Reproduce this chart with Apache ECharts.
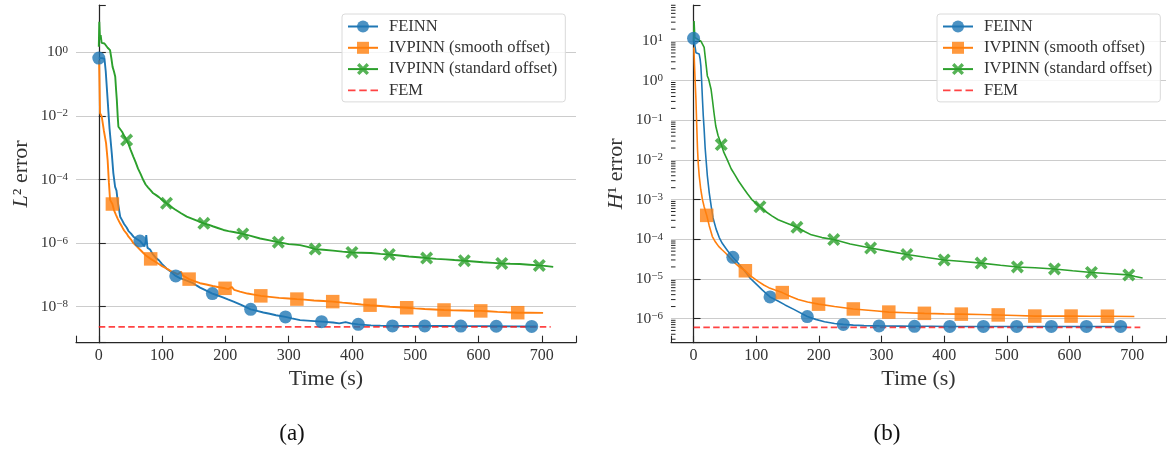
<!DOCTYPE html>
<html>
<head>
<meta charset="utf-8">
<script src="https://cdn.jsdelivr.net/npm/echarts@6/dist/echarts.min.js"></script>
<style>
  html, body { margin: 0; padding: 0; background: #ffffff; }
  #chart { width: 1169px; height: 450px; }
</style>
</head>
<body>
<div id="chart"></div>
<script>
// ---------------- DATA (time in s, error value) ----------------
const seriesNames = ['FEINN', 'IVPINN (smooth offset)', 'IVPINN (standard offset)', 'FEM'];

// (a) L2 error
const feinnL2 = [[0,0.66],[5,0.66],[9,0.63],[11,0.25],[14,0.032],[17,4.0e-3],[20.5,6.8e-4],[23,1.6e-4],[25.8,5.9e-5],[28,4.5e-5],[30,2.0e-5],[33.8,6.8e-6],[37,5.2e-6],[40,4.0e-6],[44,3.1e-6],[47,2.4e-6],[51,2.0e-6],[54.7,1.6e-6],[60,1.35e-6],[65,1.17e-6],[69,9.5e-7],[72,7.9e-7],[74,1.1e-6],[75,1.8e-6],[76.5,8.5e-7],[77,7.1e-7],[81,6.3e-7],[85,4.6e-7],[90,3.5e-7],[95,2.9e-7],[100,2.2e-7],[107,1.6e-7],[114,1.25e-7],[121.6,9.3e-8],[128,8.0e-8],[135,7.1e-8],[142,6.3e-8],[149,5.5e-8],[155,4.6e-8],[160,4.0e-8],[170,3.2e-8],[179.5,2.6e-8],[187,2.3e-8],[195,2.0e-8],[204,1.7e-8],[213,1.45e-8],[225,1.15e-8],[240,8.3e-9],[250,7.4e-9],[260,6.6e-9],[270,6.0e-9],[280,5.4e-9],[295,4.8e-9],[305,4.3e-9],[318,3.8e-9],[335,3.6e-9],[352,3.4e-9],[370,3.2e-9],[380,3.0e-9],[390,3.3e-9],[398,3.0e-9],[410,2.8e-9],[430,2.6e-9],[445,2.55e-9],[464,2.5e-9],[490,2.5e-9],[515,2.5e-9],[545,2.48e-9],[572,2.46e-9],[600,2.45e-9],[628,2.44e-9],[655,2.42e-9],[684,2.4e-9],[692,2.4e-9]];
const feinnL2Markers = [[0,0.66],[65,1.17e-6],[121.6,9.3e-8],[179.5,2.6e-8],[240,8.3e-9],[295,4.8e-9],[352,3.4e-9],[410,2.8e-9],[464,2.5e-9],[515,2.5e-9],[572,2.46e-9],[628,2.44e-9],[684,2.4e-9]];

const smoothL2 = [[0.5,0.56],[2,0.0123],[4.7,9.5e-3],[8,3.5e-3],[11.5,1.4e-3],[14,4.0e-4],[16,8e-5],[17.8,2.3e-5],[21.5,1.7e-5],[24,1.1e-5],[27,7.9e-6],[30,5.8e-6],[33.6,4.2e-6],[37,3.2e-6],[40,2.5e-6],[44,2.0e-6],[47,1.6e-6],[51,1.3e-6],[54.7,1.0e-6],[60,8.0e-7],[65,6.3e-7],[70,5.0e-7],[75,4.0e-7],[82,3.2e-7],[88,2.7e-7],[95,2.2e-7],[100,1.9e-7],[107,1.6e-7],[113,1.35e-7],[120,1.17e-7],[125,1.05e-7],[130,1.26e-7],[133,9.5e-8],[142.7,7.4e-8],[150,6.5e-8],[160,5.5e-8],[170,5.0e-8],[180,4.5e-8],[190,4.1e-8],[199.5,3.8e-8],[205,3.6e-8],[210,4.2e-8],[214,3.4e-8],[223,3.0e-8],[235,2.6e-8],[245,2.4e-8],[256,2.2e-8],[270,2.05e-8],[285,1.9e-8],[300,1.82e-8],[313,1.74e-8],[325,1.68e-8],[340,1.58e-8],[355,1.52e-8],[369.6,1.45e-8],[385,1.35e-8],[400,1.26e-8],[415,1.18e-8],[428.6,1.12e-8],[445,1.06e-8],[460,1.0e-8],[486.5,9.3e-9],[500,8.9e-9],[515,8.5e-9],[530,8.2e-9],[545.5,7.9e-9],[560,7.7e-9],[575,7.6e-9],[590,7.5e-9],[603.5,7.4e-9],[615,7.2e-9],[630,6.9e-9],[645,6.7e-9],[661.9,6.5e-9],[680,6.5e-9],[702,6.4e-9]];
const smoothL2Markers = [[21.5,1.7e-5],[82,3.2e-7],[142.7,7.4e-8],[199.5,3.8e-8],[256,2.2e-8],[313,1.74e-8],[369.6,1.45e-8],[428.6,1.12e-8],[486.5,9.3e-9],[545.5,7.9e-9],[603.5,7.4e-9],[661.9,6.5e-9]];

const standardL2 = [[0,1.5],[0.8,9.1],[2,2.5],[3,3.5],[4.5,2.0],[6,2.2],[9,1.9],[12,1.8],[14,1.4],[17.8,1.17],[20,0.63],[21.8,0.35],[24,0.25],[26,0.17],[27.5,0.06],[28.5,0.032],[30,9e-3],[31,4.6e-3],[33,4.0e-3],[36.8,3.2e-3],[40,2.4e-3],[44,1.74e-3],[47,1.3e-3],[50,8.9e-4],[54.7,5.2e-4],[58,3.6e-4],[62,2.2e-4],[66,1.5e-4],[70.5,9.5e-5],[74,7.0e-5],[78,5.6e-5],[82,4.6e-5],[86,3.7e-5],[90,3.3e-5],[95,2.8e-5],[100,2.3e-5],[107,1.8e-5],[113,1.45e-5],[120,1.17e-5],[130,8.7e-6],[139,6.8e-6],[150,5.6e-6],[158,4.8e-6],[166,4.2e-6],[173,3.8e-6],[180,3.4e-6],[188,3.0e-6],[197,2.6e-6],[205,2.4e-6],[215,2.2e-6],[227.5,1.95e-6],[240,1.7e-6],[255,1.4e-6],[270,1.22e-6],[283.7,1.07e-6],[292,1.0e-6],[300,9.3e-7],[310,9.0e-7],[318,8.7e-7],[330,7.6e-7],[342,6.5e-7],[355,6.2e-7],[370,5.8e-7],[385,5.4e-7],[400,5.1e-7],[415,5.0e-7],[430,4.9e-7],[445,4.6e-7],[459,4.4e-7],[475,4.1e-7],[490,3.8e-7],[505,3.6e-7],[518,3.4e-7],[533,3.2e-7],[548,3.1e-7],[562,2.95e-7],[577.6,2.8e-7],[592,2.65e-7],[607,2.5e-7],[622,2.4e-7],[636.7,2.3e-7],[650,2.25e-7],[665,2.2e-7],[680,2.1e-7],[696,2.0e-7],[708,1.9e-7],[718,1.8e-7]];
const standardL2Markers = [[44,1.74e-3],[107,1.8e-5],[166,4.2e-6],[227.5,1.95e-6],[283.7,1.07e-6],[342,6.5e-7],[400,5.1e-7],[459,4.4e-7],[518,3.4e-7],[577.6,2.8e-7],[636.7,2.3e-7],[696,2.0e-7]];

const femL2 = [[0,2.34e-9],[714,2.34e-9]];

// (b) H1 error
const feinnH1 = [[0,11.7],[2,7.9],[3.8,5.1],[6,4.8],[9,4.7],[10.5,3.5],[11.7,2.3],[13,0.9],[14.2,0.34],[15.5,0.13],[16.9,0.059],[18.5,0.02],[20,0.01],[22,4.0e-3],[25,1.5e-3],[28,7.0e-4],[31,3.5e-4],[36,1.8e-4],[41,1.1e-4],[45.8,7.9e-5],[54,5.2e-5],[62.7,3.5e-5],[72,2.4e-5],[82.7,1.5e-5],[90,1.05e-5],[98.5,7.8e-6],[110,5.2e-6],[122,3.5e-6],[134,2.8e-6],[146,2.2e-6],[160,1.7e-6],[181.5,1.12e-6],[195,9.5e-7],[209,8.3e-7],[225,7.5e-7],[239,7.1e-7],[255,6.8e-7],[272,6.6e-7],[296,6.5e-7],[330,6.4e-7],[380,6.35e-7],[450,6.3e-7],[520,6.3e-7],[600,6.3e-7],[692,6.3e-7]];
const feinnH1Markers = [[0,11.7],[62.7,3.5e-5],[122,3.5e-6],[181.5,1.12e-6],[239,7.1e-7],[296,6.5e-7],[352.6,6.35e-7],[409,6.3e-7],[462.6,6.3e-7],[515.7,6.3e-7],[571,6.3e-7],[627,6.3e-7],[681.6,6.3e-7]];

const smoothH1 = [[0.5,6.9],[1.5,2.5],[2.5,1.0],[3.8,0.34],[5,0.08],[6.3,0.019],[7.5,8e-3],[9,4.0e-3],[11.5,1.8e-3],[14.2,1.0e-3],[17,6.5e-4],[21,4.0e-4],[25,2.2e-4],[30,1.17e-4],[35,8.5e-5],[40,6.6e-5],[45,5.5e-5],[51,4.5e-5],[58,3.4e-5],[65,2.6e-5],[73,2.0e-5],[82.7,1.6e-5],[92,1.15e-5],[103.7,8.5e-6],[112,7.0e-6],[120,6.0e-6],[130,5.2e-6],[141.6,4.5e-6],[155,3.6e-6],[166.9,3.0e-6],[182,2.6e-6],[199.5,2.3e-6],[225,2.0e-6],[255,1.74e-6],[293,1.55e-6],[311.6,1.45e-6],[340,1.4e-6],[368.4,1.35e-6],[400,1.31e-6],[427.3,1.29e-6],[456,1.26e-6],[486.2,1.23e-6],[515,1.19e-6],[544.6,1.15e-6],[575,1.15e-6],[602.5,1.15e-6],[632,1.14e-6],[660.5,1.14e-6],[703.5,1.12e-6]];
const smoothH1Markers = [[21,4.0e-4],[82.7,1.6e-5],[141.6,4.5e-6],[199.5,2.3e-6],[255,1.74e-6],[311.6,1.45e-6],[368.4,1.35e-6],[427.3,1.29e-6],[486.2,1.23e-6],[544.6,1.15e-6],[602.5,1.15e-6],[660.5,1.14e-6]];

const standardH1 = [[0,10],[0.8,32],[2,12.3],[4,11.5],[6.3,11.2],[9,10.6],[11.7,10],[14,8.5],[16.9,6.9],[19,3.5],[22,1.32],[24,1.1],[25.9,1.02],[28,0.6],[30,0.34],[32.5,0.16],[35.4,0.072],[39,0.042],[44.2,0.0245],[48,0.016],[53.7,0.0102],[60,6.0e-3],[66,4.2e-3],[72,2.9e-3],[80,1.9e-3],[86,1.4e-3],[93,1.0e-3],[100,8.0e-4],[106,6.6e-4],[115,5.0e-4],[125,3.9e-4],[135,3.1e-4],[150,2.5e-4],[165,2.0e-4],[178,1.55e-4],[188,1.29e-4],[205,1.1e-4],[223.7,9.8e-5],[250,7.6e-5],[282.6,6.0e-5],[310,5.0e-5],[340.5,4.1e-5],[370,3.5e-5],[400,3.0e-5],[430,2.75e-5],[458.9,2.5e-5],[490,2.2e-5],[516.8,2.0e-5],[545,1.9e-5],[576,1.78e-5],[605,1.6e-5],[635,1.45e-5],[665,1.35e-5],[694.6,1.26e-5],[705,1.15e-5],[716.7,1.05e-5]];
const standardH1Markers = [[44.2,0.0245],[106,6.6e-4],[165,2.0e-4],[223.7,9.8e-5],[282.6,6.0e-5],[340.5,4.1e-5],[400,3.0e-5],[458.9,2.5e-5],[516.8,2.0e-5],[576,1.78e-5],[635,1.45e-5],[694.6,1.26e-5]];

const femH1 = [[0,6.0e-7],[713,6.0e-7]];

// axis extents
const xRange = [-36, 754];
const yRangeL2 = [7.4e-10, 30.9];
const yRangeH1 = [2.45e-7, 81.3];
const panelLabels = ['(a)', '(b)'];

// ---------------- CHART ----------------
const FONT = "'Liberation Serif', 'Times New Roman', serif";
const TXT = '#333333';
const AX = '#262626';
const COLORS = {
  blue: '#1f77b4', blueM: 'rgba(31,119,180,0.8)',
  orange: '#ff7f0e', orangeM: 'rgba(255,127,14,0.8)',
  green: '#2ca02c', greenM: 'rgba(44,160,44,0.8)',
  red: 'rgba(255,20,20,0.8)'
};
const X_PATH = 'path://M0,2L2,0L5,3L8,0L10,2L7,5L10,8L8,10L5,7L2,10L0,8L3,5Z';
const DASH_ICON = 'path://M0,0h7v1.7h-7z M10.5,0h7v1.7h-7z M21,0h7v1.7h-7z';

function build(curve, markers) {
  const pts = curve.map(p => ({ value: p, symbol: 'none' }))
    .concat(markers.map(p => ({ value: p })));
  pts.sort((a, b) => a.value[0] - b.value[0]);
  return pts;
}

function lineSeries(name, color, mColor, symbol, size, curve, markers, idx, lw) {
  return {
    type: 'line', name, xAxisIndex: idx, yAxisIndex: idx,
    data: build(curve, markers),
    symbol, symbolSize: size, showSymbol: true, showAllSymbol: true,
    lineStyle: { color, width: lw },
    itemStyle: { color: mColor },
    emphasis: { disabled: true },
    animation: false
  };
}
function femSeries(data, idx) {
  return {
    type: 'line', name: 'FEM', xAxisIndex: idx, yAxisIndex: idx, data,
    symbol: 'none',
    lineStyle: { color: COLORS.red, width: 1.7, type: [6.5, 3.3] },
    itemStyle: { color: COLORS.red },
    emphasis: { disabled: true }, animation: false
  };
}

function logLabel(v) {
  const l = Math.log10(v);
  const e = Math.round(l);
  if (Math.abs(l - e) > 1e-6) return '';
  const s = e < 0 ? '\u2212' + (-e) : String(e);
  return '{b|10}{s|' + s + '}';
}
const logRich = {
  b: { fontFamily: FONT, fontSize: 15.5, color: TXT, verticalAlign: 'bottom', lineHeight: 16, padding: [3, 0, 0, 0] },
  s: { fontFamily: FONT, fontSize: 11, color: TXT, verticalAlign: 'top', lineHeight: 11 }
};

function xAxis(idx) {
  return {
    type: 'value', gridIndex: idx, min: xRange[0], max: xRange[1], splitNumber: 8,
    axisLine: { show: true, lineStyle: { color: AX, width: 1.25 } },
    axisTick: { show: true, inside: true, length: 7, lineStyle: { color: AX, width: 1.1 } },
    axisLabel: {
      formatter: v => (v >= 0 && v % 100 === 0) ? String(v) : '',
      fontFamily: FONT, fontSize: 16, color: TXT, margin: 5
    },
    splitLine: { show: false },
    name: 'Time (s)', nameLocation: 'middle', nameGap: 26,
    nameTextStyle: { fontFamily: FONT, fontSize: 22, color: TXT }
  };
}
function yAxis(idx, range, base, nameRich) {
  return {
    type: 'log', gridIndex: idx, logBase: base, min: range[0], max: range[1], splitNumber: 5,
    axisLine: { show: true, lineStyle: { color: AX, width: 1.25 } },
    axisTick: { show: true, inside: true, length: 7, lineStyle: { color: AX, width: 1.1 } },
    axisLabel: { formatter: logLabel, rich: logRich, margin: 8 },
    splitLine: { show: true, showMinLine: false, showMaxLine: false, lineStyle: { color: '#cccccc', width: 1 } },
    name: nameRich, nameLocation: 'middle', nameGap: 44, nameRotate: 90,
    nameTextStyle: {
      fontFamily: FONT, fontSize: 22, color: TXT,
      rich: { i: { fontFamily: FONT, fontSize: 22, fontStyle: 'italic', color: TXT } }
    }
  };
}

// minor ticks of the H1 log axis (2..9 x 10^k)
const minorTicksH1 = [];
for (let k = -7; k <= 1; k++) {
  for (let m = 2; m <= 9; m++) {
    const v = m * Math.pow(10, k);
    if (v > yRangeH1[0] && v < yRangeH1[1]) minorTicksH1.push([xRange[0], v]);
  }
}

function legend(left) {
  return {
    left, top: 14, orient: 'vertical',
    itemWidth: 30, itemHeight: 15, itemGap: 4.3,
    padding: [4, 8, 3, 5],
    backgroundColor: 'rgba(255,255,255,0.8)', borderColor: '#dadada', borderWidth: 1, borderRadius: 3,
    textStyle: { fontFamily: FONT, fontSize: 16.5, color: TXT, padding: [0, 0, 0, 6], lineHeight: 15 },
    selectedMode: false,
    data: [
      { name: seriesNames[0] }, { name: seriesNames[1] }, { name: seriesNames[2] },
      { name: seriesNames[3], icon: DASH_ICON }
    ]
  };
}

const chart = echarts.init(document.getElementById('chart'), null, { renderer: 'canvas' });
chart.setOption({
  backgroundColor: '#ffffff',
  animation: false,
  grid: [
    { left: 76, top: 5, width: 500, height: 337.7 },
    { left: 671, top: 5, width: 502, height: 337.7 }
  ],
  xAxis: [xAxis(0), xAxis(1)],
  yAxis: [
    yAxis(0, yRangeL2, 100, '{i|L}\u00b2 error'),
    yAxis(1, yRangeH1, 10, '{i|H}\u00b9 error')
  ],
  legend: [legend(342), legend(937)],
  series: [
    lineSeries(seriesNames[0], COLORS.blue, COLORS.blueM, 'circle', 13, feinnL2, feinnL2Markers, 0, 1.9),
    lineSeries(seriesNames[1], COLORS.orange, COLORS.orangeM, 'rect', 13.5, smoothL2, smoothL2Markers, 0, 1.9),
    lineSeries(seriesNames[2], COLORS.green, COLORS.greenM, X_PATH, 13, standardL2, standardL2Markers, 0, 1.9),
    femSeries(femL2, 0),
    lineSeries(seriesNames[0], COLORS.blue, COLORS.blueM, 'circle', 13, feinnH1, feinnH1Markers, 1, 1.6),
    lineSeries(seriesNames[1], COLORS.orange, COLORS.orangeM, 'rect', 13.5, smoothH1, smoothH1Markers, 1, 1.6),
    lineSeries(seriesNames[2], COLORS.green, COLORS.greenM, X_PATH, 13, standardH1, standardH1Markers, 1, 1.6),
    femSeries(femH1, 1),
    {
      type: 'custom', name: 'minorTicks', xAxisIndex: 1, yAxisIndex: 1, silent: true, clip: false, z: 5,
      data: minorTicksH1,
      renderItem: (params, api) => {
        const p = api.coord([api.value(0), api.value(1)]);
        return { type: 'line', shape: { x1: p[0], y1: p[1], x2: p[0] + 4.5, y2: p[1] },
                 style: { stroke: AX, lineWidth: 1 } };
      }
    }
  ],
  graphic: [
    { type: 'text', x: 292, y: 434, style: { text: panelLabels[0], fontFamily: FONT, fontSize: 23, fill: '#111', align: 'center', verticalAlign: 'middle' } },
    { type: 'text', x: 887, y: 434, style: { text: panelLabels[1], fontFamily: FONT, fontSize: 23, fill: '#111', align: 'center', verticalAlign: 'middle' } }
  ]
});
</script>
</body>
</html>
